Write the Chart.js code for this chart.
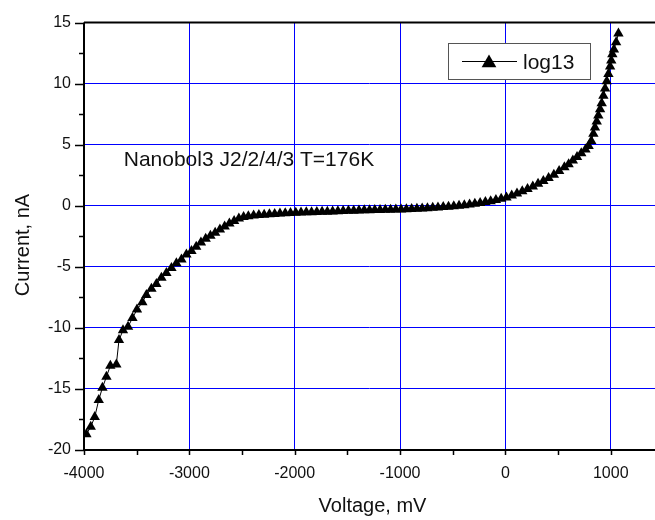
<!DOCTYPE html>
<html>
<head>
<meta charset="utf-8">
<script src="https://cdn.jsdelivr.net/npm/chart.js@4"></script>
<style>
  html, body { margin: 0; padding: 0; background: #fff; }
  #wrap { width: 655px; height: 520px; }
</style>
</head>
<body>
<div id="wrap"><canvas id="chart-1" width="655" height="520"></canvas></div>
<script>
const chart1 = document.getElementById('chart-1').getContext('2d');

// measured I-V curve, voltage in mV, current in nA
const voltage = [
    -3977, -3936, -3898, -3860, -3825, -3787, -3750, -3693, -3668, -3630,
    -3582, -3540, -3497, -3446, -3408, -3360, -3313, -3265, -3218, -3170,
    -3123, -3075, -3028, -2980, -2935, -2890, -2845, -2800, -2755, -2710,
    -2665, -2620, -2575, -2530, -2485, -2440, -2390, -2340, -2290, -2240,
    -2190, -2140, -2090, -2040, -1990, -1940, -1890, -1840, -1790, -1740,
    -1690, -1640, -1590, -1540, -1490, -1440, -1390, -1340, -1290, -1240,
    -1190, -1140, -1090, -1040, -990, -940, -890, -840, -790, -740,
    -690, -640, -590, -540, -490, -440, -390, -340, -290, -240,
    -190, -140, -90, -40, 10, 60, 110, 160, 210, 260,
    310, 360, 410, 460, 510, 560, 600, 640, 680, 720,
    760, 790, 815, 835, 850, 867, 882, 899, 914, 930,
    946, 962, 978, 994, 1005, 1015, 1030, 1051, 1073
];
const current = [
    -18.7, -18.1, -17.3, -15.9, -14.9, -14.0, -13.1, -13.0, -11.0, -10.2,
    -9.9, -9.2, -8.5, -7.9, -7.3, -6.8, -6.4, -5.9, -5.5, -5.1,
    -4.7, -4.4, -4.0, -3.7, -3.35, -3.0, -2.7, -2.45, -2.2, -1.95,
    -1.7, -1.45, -1.25, -1.05, -0.92, -0.85, -0.8, -0.76, -0.73, -0.70,
    -0.67, -0.64, -0.62, -0.60, -0.58, -0.56, -0.54, -0.53, -0.51, -0.49,
    -0.48, -0.46, -0.44, -0.43, -0.41, -0.40, -0.38, -0.37, -0.36, -0.35,
    -0.34, -0.33, -0.32, -0.31, -0.30, -0.28, -0.26, -0.24, -0.22, -0.20,
    -0.17, -0.14, -0.11, -0.08, -0.04, 0.0, 0.05, 0.10, 0.16, 0.23,
    0.30, 0.38, 0.47, 0.57, 0.68, 0.85, 1.0, 1.18, 1.37, 1.58,
    1.8, 2.03, 2.28, 2.55, 2.85, 3.15, 3.4, 3.7, 4.0, 4.3,
    4.6, 4.9, 5.3, 5.9, 6.4, 6.9, 7.4, 7.9, 8.4, 9.0,
    9.6, 10.2, 10.8, 11.4, 11.9, 12.4, 12.8, 13.4, 14.1
];

const xTicks = [-4000, -3000, -2000, -1000, 0, 1000];
const xMinorTicks = [-3500, -2500, -1500, -500, 500];
const yTicks = [-20, -15, -10, -5, 0, 5, 10, 15];
const yMinorTicks = [-17.5, -12.5, -7.5, -2.5, 2.5, 7.5, 12.5];

const seriesName = 'log13';
const note = 'Nanobol3 J2/2/4/3 T=176K';
const noteAt = { x: -3623, y: 3.24 };

const FONT = '"Liberation Sans", Arial, sans-serif';

const points = voltage.map((v, i) => ({ x: v, y: current[i] }));

function triangle(ctx, cx, cy, r) {
    ctx.beginPath();
    ctx.moveTo(cx, cy - r);
    ctx.lineTo(cx + r * 0.866, cy + r * 0.5);
    ctx.lineTo(cx - r * 0.866, cy + r * 0.5);
    ctx.closePath();
    ctx.fill();
}

const frame = {
    id: 'frame',
    beforeDatasetsDraw(chart) {
        const ctx = chart.ctx;
        const a = chart.chartArea;
        const xs = chart.scales.x, ys = chart.scales.y;
        ctx.save();
        ctx.strokeStyle = '#000';
        ctx.lineWidth = 2;
        ctx.beginPath();
        ctx.moveTo(a.left, a.top);
        ctx.lineTo(a.right, a.top);
        ctx.moveTo(a.left, a.top);
        ctx.lineTo(a.left, a.bottom);
        ctx.lineTo(a.right, a.bottom);
        ctx.stroke();

        ctx.lineWidth = 1.5;
        ctx.beginPath();
        yTicks.forEach(v => {
            const p = Math.round(ys.getPixelForValue(v)) + 0.5;
            ctx.moveTo(a.left - 9, p); ctx.lineTo(a.left, p);
        });
        yMinorTicks.forEach(v => {
            const p = Math.round(ys.getPixelForValue(v)) + 0.5;
            ctx.moveTo(a.left - 5, p); ctx.lineTo(a.left, p);
        });
        xTicks.concat(xMinorTicks).forEach(v => {
            const p = Math.round(xs.getPixelForValue(v)) + 0.5;
            ctx.moveTo(p, a.bottom); ctx.lineTo(p, a.bottom + 5);
        });
        ctx.stroke();
        ctx.restore();
    },
    afterDraw(chart) {
        const ctx = chart.ctx;
        const a = chart.chartArea;
        const xs = chart.scales.x, ys = chart.scales.y;
        ctx.save();
        ctx.fillStyle = '#111';

        // annotation
        ctx.font = '21px ' + FONT;
        ctx.textAlign = 'left';
        ctx.textBaseline = 'alphabetic';
        ctx.fillText(note, xs.getPixelForValue(noteAt.x), ys.getPixelForValue(noteAt.y));

        // legend
        ctx.fillStyle = '#fff';
        ctx.fillRect(448, 43.5, 142, 36);
        ctx.strokeStyle = '#555';
        ctx.lineWidth = 1;
        ctx.strokeRect(448.5, 43.5, 142, 36);
        ctx.strokeStyle = '#000';
        ctx.beginPath();
        ctx.moveTo(462, 61.5); ctx.lineTo(517, 61.5);
        ctx.stroke();
        ctx.fillStyle = '#000';
        triangle(ctx, 489, 63, 8.5);
        ctx.fillStyle = '#111';
        ctx.font = '21px ' + FONT;
        ctx.fillText(seriesName, 523, 68.5);

        // axis titles
        ctx.font = '20px ' + FONT;
        ctx.textAlign = 'center';
        ctx.fillText('Voltage, mV', (a.left + a.right) / 2 + 3, 511.5);
        ctx.translate(28.5, 245);
        ctx.rotate(-Math.PI / 2);
        ctx.fillText('Current, nA', 0, 0);
        ctx.restore();
    }
};

var ivChart = new Chart(chart1, {
    type: 'scatter',
    data: {
        datasets: [{
            label: seriesName,
            data: points,
            showLine: true,
            borderColor: '#000',
            borderWidth: 1,
            backgroundColor: '#000',
            pointStyle: 'triangle',
            pointRadius: 6,
            pointBorderWidth: 0,
            pointBackgroundColor: '#000'
        }]
    },
    options: {
        responsive: false,
        animation: false,
        events: [],
        layout: { autoPadding: false, padding: { top: 21, left: 0, right: 0, bottom: 0 } },
        plugins: {
            legend: { display: false },
            tooltip: { enabled: false }
        },
        scales: {
            x: {
                type: 'linear',
                min: -4000,
                max: 1420,
                afterBuildTicks: s => { s.ticks = xTicks.map(v => ({ value: v })); },
                afterFit: s => { s.height = 70; s.paddingRight = 0; },
                grid: { color: '#0000ff', lineWidth: 1, drawTicks: false },
                border: { display: false },
                ticks: {
                    padding: 14,
                    color: '#111',
                    font: { family: FONT, size: 16 },
                    maxRotation: 0,
                    callback: v => String(v)
                }
            },
            y: {
                type: 'linear',
                min: -20,
                max: 15,
                afterBuildTicks: s => { s.ticks = yTicks.map(v => ({ value: v })); },
                afterFit: s => { s.width = 84; },
                grid: { color: '#0000ff', lineWidth: 1, drawTicks: false },
                border: { display: false },
                ticks: {
                    padding: 13,
                    color: '#111',
                    font: { family: FONT, size: 16 },
                    callback: v => String(v)
                }
            }
        }
    },
    plugins: [frame]
});
</script>
</body>
</html>
